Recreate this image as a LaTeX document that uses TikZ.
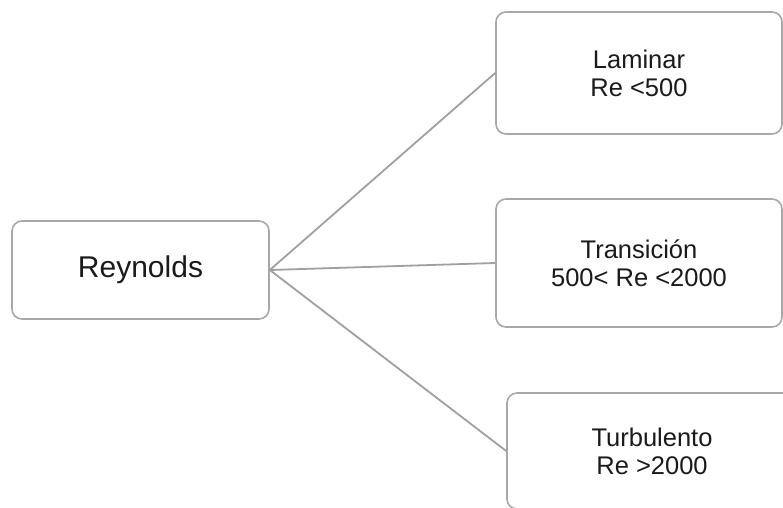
\documentclass[tikz,border=0pt]{standalone}
\usepackage{fontspec}
\setmainfont{Liberation Sans}
\usepackage{tikz}
\usepackage{xcolor}
\definecolor{boxgray}{HTML}{A8A8A8}
\definecolor{linegray}{HTML}{A0A0A0}
\definecolor{txt}{HTML}{1A1A1A}

\begin{document}
\begin{tikzpicture}[x=1pt, y=-1pt,
    rebox/.style={draw=boxgray, line width=1.6pt, rounded corners=10pt, text=txt, align=center, inner sep=0pt},
    link/.style={draw=linegray, line width=1.8pt}]
    \useasboundingbox (0,0) rectangle (783,507);
    \clip (0,0) rectangle (783,507);
    % left box
    \node[rebox, minimum width=257pt, minimum height=98pt, font=\fontsize{30}{34}\selectfont] (rey) at (140.5,270) {Reynolds};

    % three regimes
    \node[rebox, minimum width=286pt, minimum height=122pt, font=\fontsize{25.5}{28}\selectfont] (lam) at (639,73) {Laminar\\Re <500};
    \node[rebox, minimum width=286pt, minimum height=128pt, font=\fontsize{25.5}{28}\selectfont] (tra) at (639,263) {Transición\\500< Re <2000};
    \node[rebox, minimum width=290pt, minimum height=116pt, font=\fontsize{25.5}{28}\selectfont] (tur) at (652,451) {Turbulento\\Re >2000};

    % connectors
    \draw[link] (rey.east) -- (lam.west);
    \draw[link] (rey.east) -- (tra.west);
    \draw[link] (rey.east) -- (tur.west);
\end{tikzpicture}
\end{document}
